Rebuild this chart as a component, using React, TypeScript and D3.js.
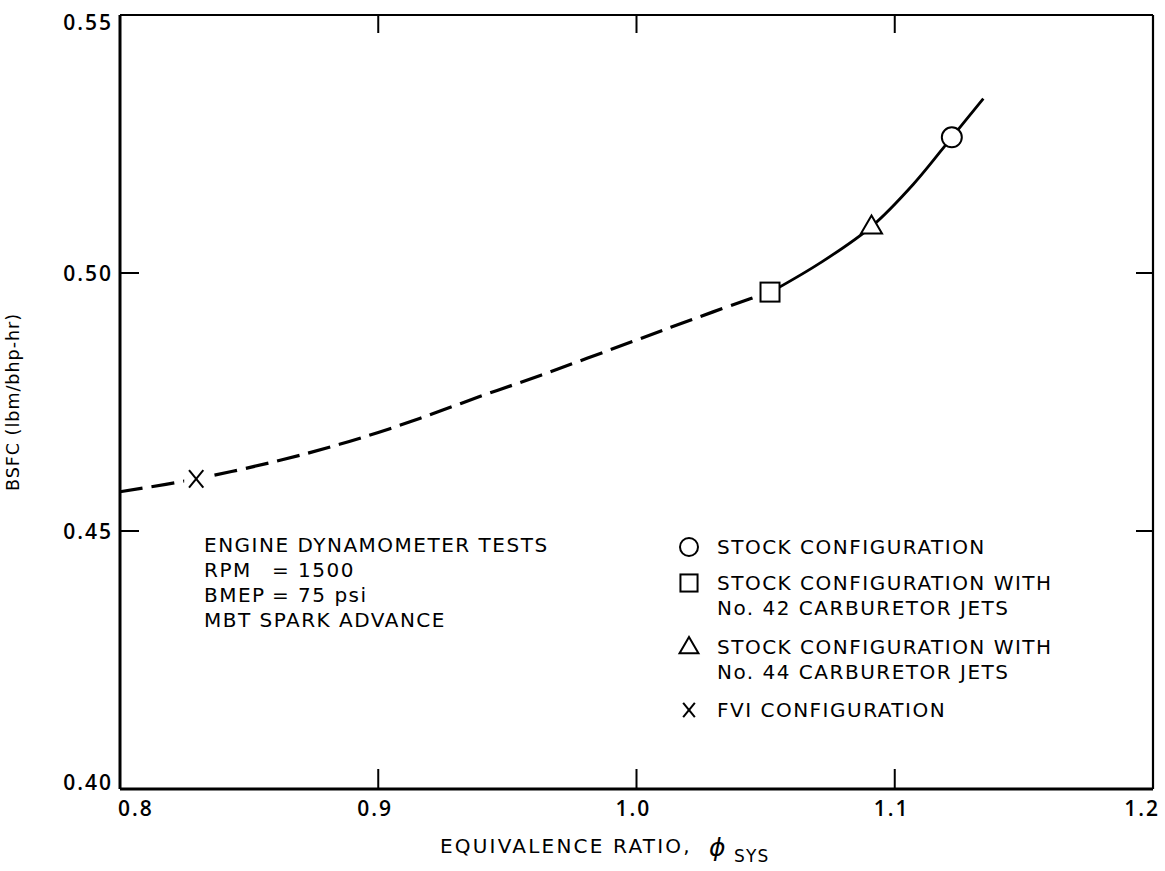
import React from "react";
import * as d3 from "d3";

// BSFC vs. system equivalence ratio, engine dynamometer tests
const dashedPhi = [0.8, 0.8295, 0.862, 0.885, 0.9, 0.916, 0.939, 0.963, 1.0, 1.021, 1.044, 1.052];
const dashedBsfc = [0.4576, 0.4601, 0.4637, 0.4668, 0.4691, 0.4718, 0.476, 0.4802, 0.487, 0.4909, 0.495, 0.4963];
const solidPhi = [1.052, 1.0713, 1.091, 1.1072, 1.1221, 1.1343];
const solidBsfc = [0.4963, 0.502, 0.509, 0.5172, 0.5263, 0.5338];

const markerNames = ["circle", "square", "triangle", "x"];
const markerPhi = [1.1221, 1.0517, 1.091, 0.8295];
const markerBsfc = [0.5263, 0.4963, 0.509, 0.4601];

const xTicks = [0.8, 0.9, 1.0, 1.1, 1.2];
const xTickLabels = ["0.8", "0.9", "1.0", "1.1", "1.2"];
const yTicks = [0.4, 0.45, 0.5, 0.55];
const yTickLabels = ["0.40", "0.45", "0.50", "0.55"];

const noteLines = [
  ["ENGINE DYNAMOMETER TESTS", ""],
  ["RPM", "= 1500"],
  ["BMEP", "= 75 psi"],
  ["MBT SPARK ADVANCE", ""],
];

const legendEntries = [
  { marker: "circle", lines: ["STOCK CONFIGURATION"] },
  { marker: "square", lines: ["STOCK CONFIGURATION WITH", "No. 42 CARBURETOR JETS"] },
  { marker: "triangle", lines: ["STOCK CONFIGURATION WITH", "No. 44 CARBURETOR JETS"] },
  { marker: "x", lines: ["FVI CONFIGURATION"] },
];

const W = 1165;
const H = 871;
const left = 120;
const right = 1153;
const top = 15;
const bottom = 789;

const x = d3.scaleLinear().domain([0.8, 1.2]).range([left, right]);
const y = d3.scaleLinear().domain([0.4, 0.55]).range([bottom, top]);

const FONT = "'DejaVu Sans', sans-serif";
const NUM_FONT = "'Open Sans', sans-serif";

function Marker({ kind, cx, cy, scale = 1 }: { kind: string; cx: number; cy: number; scale?: number }) {
  const sw = 2;
  if (kind === "circle") {
    return <circle cx={cx} cy={cy} r={10 * scale} fill="#fff" stroke="#000" strokeWidth={sw} />;
  }
  if (kind === "square") {
    const s = 19 * scale;
    return <rect x={cx - s / 2} y={cy - s / 2} width={s} height={s} fill="#fff" stroke="#000" strokeWidth={sw} />;
  }
  if (kind === "triangle") {
    const w = 21 * scale;
    const h = 18 * scale;
    const p = `M${cx},${cy - h * 0.62} L${cx + w / 2},${cy + h * 0.38} L${cx - w / 2},${cy + h * 0.38} Z`;
    return <path d={p} fill="#fff" stroke="#000" strokeWidth={sw} strokeLinejoin="miter" />;
  }
  const hw = 6.5 * scale;
  const hh = 8 * scale;
  return (
    <g stroke="#000" strokeWidth={2} fill="none">
      <line x1={cx - hw} y1={cy - hh} x2={cx + hw} y2={cy + hh} />
      <line x1={cx + hw} y1={cy - hh} x2={cx - hw} y2={cy + hh} />
    </g>
  );
}

export default function App() {
  const line = d3
    .line<[number, number]>()
    .x((d) => x(d[0]))
    .y((d) => y(d[1]))
    .curve(d3.curveCatmullRom.alpha(0.5));

  const dashedPts = dashedPhi.map((p, i) => [p, dashedBsfc[i]] as [number, number]);
  const solidPts = solidPhi.map((p, i) => [p, solidBsfc[i]] as [number, number]);

  const innerX = [0.9, 1.0, 1.1];
  const innerY = [0.45, 0.5];

  const textStyle = { fontFamily: FONT, fontSize: 20, letterSpacing: 1.5 };
  const numStyle = { fontFamily: NUM_FONT, fontSize: 21, fontWeight: 600, letterSpacing: 2 };

  return (
    <svg
      width={W}
      height={H}
      viewBox={`0 0 ${W} ${H}`}
      style={{ position: "absolute", left: 0, top: 0, background: "#fff" }}
    >
      <rect x={0} y={0} width={W} height={H} fill="#fff" />

      {/* frame */}
      <line x1={left} y1={top} x2={right} y2={top} stroke="#000" strokeWidth={2.2} />
      <line x1={right} y1={top} x2={right} y2={bottom} stroke="#000" strokeWidth={2.2} />
      <line x1={left} y1={top} x2={left} y2={bottom} stroke="#000" strokeWidth={3} />
      <line x1={left} y1={bottom} x2={right} y2={bottom} stroke="#000" strokeWidth={3} />

      {/* inward ticks */}
      {innerX.map((v) => (
        <g key={"xt" + v} stroke="#000" strokeWidth={2}>
          <line x1={x(v)} y1={bottom} x2={x(v)} y2={bottom - 20} />
          <line x1={x(v)} y1={top} x2={x(v)} y2={top + 18} />
        </g>
      ))}
      {innerY.map((v) => (
        <g key={"yt" + v} stroke="#000" strokeWidth={2}>
          <line x1={left} y1={y(v)} x2={left + 19} y2={y(v)} />
          <line x1={right} y1={y(v)} x2={right - 17} y2={y(v)} />
        </g>
      ))}

      {/* tick labels */}
      {xTicks.map((v, i) => {
        const anchor = i === 0 ? "start" : i === xTicks.length - 1 ? "end" : "middle";
        const dx = i === 0 ? -2 : i === xTicks.length - 1 ? 7 : -3;
        return (
          <text key={"xl" + v} x={x(v) + dx} y={816} textAnchor={anchor} style={numStyle} fill="#000">
            {xTickLabels[i]}
          </text>
        );
      })}
      {yTicks.map((v, i) => {
        const cy = i === 0 ? y(v) - 7 : i === yTicks.length - 1 ? y(v) + 7 : y(v);
        return (
          <text key={"yl" + v} x={113} y={cy + 7.5} textAnchor="end" style={numStyle} fill="#000">
            {yTickLabels[i]}
          </text>
        );
      })}

      {/* axis titles */}
      <text
        transform={`translate(19, 402) rotate(-90)`}
        textAnchor="middle"
        style={{ fontFamily: FONT, fontSize: 17.5, letterSpacing: 1 }}
        fill="#000"
      >
        BSFC (lbm/bhp-hr)
      </text>
      <text x={440} y={853} style={{ fontFamily: FONT, fontSize: 20, letterSpacing: 2.2 }} fill="#000">
        EQUIVALENCE RATIO,
      </text>
      <text
        x={709}
        y={856}
        style={{ fontFamily: "'DejaVu Sans', sans-serif", fontSize: 25, fontStyle: "italic" }}
        fill="#000"
      >
        ϕ
      </text>
      <text x={734} y={862} style={{ fontFamily: FONT, fontSize: 17, letterSpacing: 1.2 }} fill="#000">
        SYS
      </text>

      {/* fitted curve: dashed where extrapolated, solid across carburetor data */}
      <path
        d={line(dashedPts) || ""}
        fill="none"
        stroke="#000"
        strokeWidth={3.2}
        strokeDasharray="23 9"
      />
      <path d={line(solidPts) || ""} fill="none" stroke="#000" strokeWidth={2.8} />

      {/* knock out the curve behind the X marker */}
      <rect x={x(markerPhi[3]) - 12} y={y(markerBsfc[3]) - 12} width={24} height={24} fill="#fff" />

      {markerNames.map((k, i) => (
        <Marker key={k} kind={k} cx={x(markerPhi[i])} cy={y(markerBsfc[i])} scale={k === "x" ? 1.1 : 1} />
      ))}

      {/* test conditions */}
      {noteLines.map((ln, i) => (
        <text key={"n" + i} x={204} y={552 + i * 25} style={textStyle} fill="#000">
          {ln[0]}
          {ln[1] ? <tspan x={272}>{ln[1]}</tspan> : null}
        </text>
      ))}

      {/* legend */}
      {(() => {
        const rows = [547, 583, 647, 710];
        return legendEntries.map((e, i) => (
          <g key={"lg" + i}>
            <Marker kind={e.marker} cx={689} cy={rows[i]} scale={0.9} />
            {e.lines.map((t, j) => (
              <text key={j} x={717} y={rows[i] + 7 + j * 25} style={textStyle} fill="#000">
                {t}
              </text>
            ))}
          </g>
        ));
      })()}
    </svg>
  );
}
